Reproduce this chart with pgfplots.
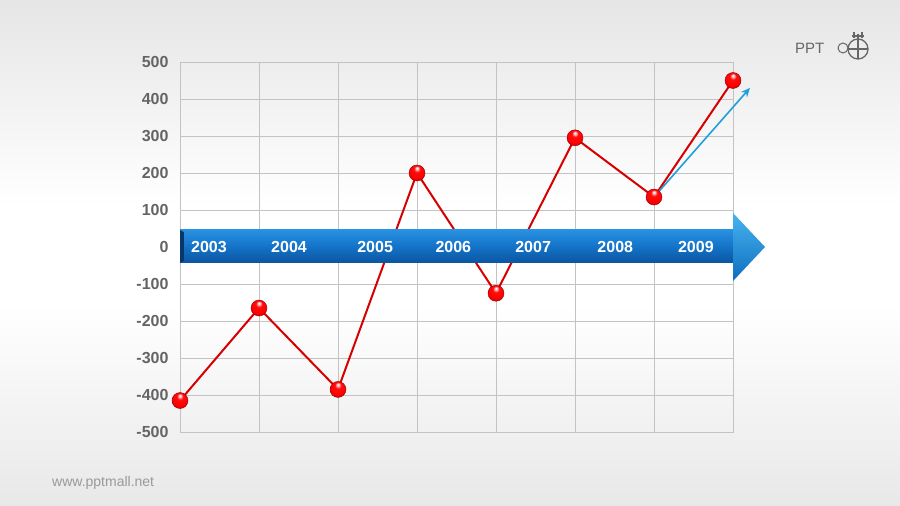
\documentclass[border=0pt]{standalone}
\usepackage{pgfplots}
\pgfplotsset{compat=1.18}
\usepackage{fontspec}
\setmainfont{Liberation Sans}
\usetikzlibrary{arrows.meta,shadings}
\definecolor{gridgray}{RGB}{195,195,195}
\definecolor{tickgray}{RGB}{100,100,100}
\definecolor{linered}{RGB}{215,0,0}
\definecolor{bandtop}{RGB}{40,145,225}
\definecolor{bandmid}{RGB}{20,115,200}
\definecolor{bandbot}{RGB}{10,85,160}
\definecolor{headtop}{RGB}{70,180,240}
\definecolor{headbot}{RGB}{15,110,190}
\definecolor{arrowcyan}{RGB}{30,160,220}
\tikzset{yearlbl/.style={text=white, font=\bfseries\fontsize{16}{16}\selectfont}}
\pgfdeclareradialshading{redballshade}{\pgfpoint{0bp}{16bp}}{%
  color(0bp)=(white); color(4bp)=(red!25!white); color(10bp)=(red!95!white);
  color(24bp)=(red); color(34bp)=(red!80!black); color(50bp)=(red!80!black)}
\pgfdeclareplotmark{redball}{%
  \pgfpathcircle{\pgfpointorigin}{\pgfplotmarksize}%
  \pgfshadepath{redballshade}{0}%
  \pgfusepath{discard}%
  \pgfsetstrokecolor{red!55!black}\pgfsetlinewidth{0.4pt}%
  \pgfpathcircle{\pgfpointorigin}{\pgfplotmarksize}%
  \pgfusepath{stroke}}
\begin{document}
\begin{tikzpicture}[x=1pt,y=1pt]
\shade[top color=black!10, bottom color=white] (0,300) rectangle (900,506);
\fill[white] (0,200) rectangle (900,300.5);
\shade[top color=white, bottom color=black!9] (0,0) rectangle (900,200.5);
\useasboundingbox (0,0) rectangle (900,506);
\begin{axis}[
  at={(180pt,74pt)}, anchor=south west, scale only axis,
  width=553pt, height=370pt,
  xmin=0, xmax=7, ymin=-500, ymax=500,
  xtick={0,1,...,7}, xticklabels={},
  ytick={-500,-400,...,500},
  grid=major, major grid style={gridgray, line width=0.8pt},
  axis line style={gridgray, line width=0.8pt},
  tick style={draw=none},
  /pgf/number format/assume math mode=true,
  yticklabel style={font=\bfseries\fontsize{16}{16}\selectfont, text=tickgray, xshift=-8pt},
  clip=false,
]
\addplot[linered, line width=2pt, mark=none] coordinates {
  (0,-415) (1,-165) (2,-385) (3,200) (4,-125) (5,295) (6,135) (7,450)};
% banner
\shade[top color=bandtop, bottom color=bandbot, middle color=bandmid]
  (axis cs:0,46) -- (axis cs:7,46) -- (axis cs:7,-43) -- (axis cs:0,-43) -- cycle;
\shade[top color=headtop, bottom color=headbot]
  (axis cs:7,92) -- (axis cs:7.405,0) -- (axis cs:7,-92) -- cycle;
\fill[black!35!bandbot] (axis cs:0,46) -- (axis cs:0.05,40) -- (axis cs:0.05,-37) -- (axis cs:0,-43) -- cycle;
\node[yearlbl] at (axis cs:0.367,0) {2003};
\node[yearlbl] at (axis cs:1.38,0) {2004};
\node[yearlbl] at (axis cs:2.47,0) {2005};
\node[yearlbl] at (axis cs:3.46,0) {2006};
\node[yearlbl] at (axis cs:4.47,0) {2007};
\node[yearlbl] at (axis cs:5.51,0) {2008};
\node[yearlbl] at (axis cs:6.53,0) {2009};
\draw[arrowcyan, line width=1.6pt, -{Stealth[length=9pt,width=8pt]}] (axis cs:6,135) -- (axis cs:7.215,430);
\addplot[only marks, mark=redball, mark size=8pt] coordinates {
  (0,-415) (1,-165) (2,-385) (3,200) (4,-125) (5,295) (6,135) (7,450)};
\end{axis}
% logo
\node[text=black!60, anchor=west, inner sep=0pt] at (795,458) {\fontsize{15}{15}\selectfont PPT};
\draw[black!60, line width=1pt] (843,458) circle (5);
\draw[black!60, line width=1.3pt] (858,457) circle (10);
\draw[black!60, line width=1.3pt] (848,457) -- (868,457) (858,447) -- (858,472);
\draw[black!60, line width=1.1pt] (852,470) -- (864,470) (854,468) -- (854,474) (862,468) -- (862,474);
% footer
\node[text=black!40, anchor=west, inner sep=0pt] at (52,23) {\fontsize{14}{14}\selectfont www.pptmall.net};
\end{tikzpicture}
\end{document}
